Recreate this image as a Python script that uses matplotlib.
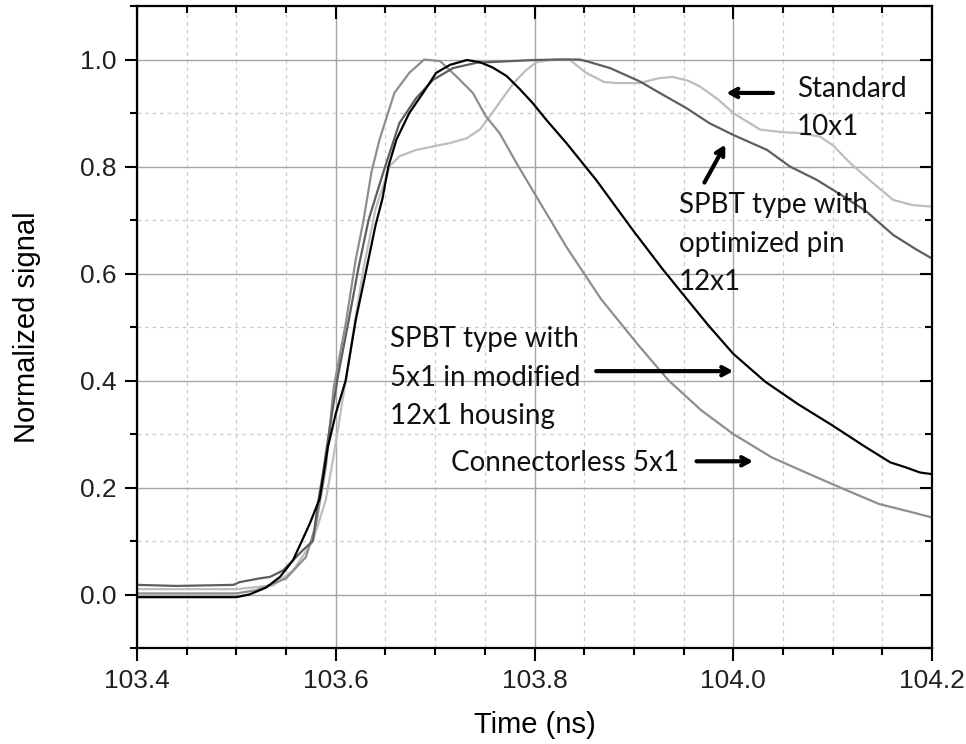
import numpy as np
import matplotlib.pyplot as plt
from matplotlib.ticker import MultipleLocator

# values (time in ns, normalized signal)
t_standard = [103.40, 103.50, 103.537, 103.557, 103.577, 103.59, 103.598, 103.61, 103.62, 103.628,
              103.64, 103.654, 103.664, 103.681, 103.698, 103.715, 103.732, 103.745, 103.755, 103.765,
              103.779, 103.792, 103.802, 103.82, 103.835, 103.852, 103.87, 103.882, 103.906, 103.925,
              103.939, 103.955, 103.966, 103.985, 104.0, 104.027, 104.05, 104.067, 104.087, 104.1,
              104.118, 104.14, 104.161, 104.18, 104.2]
v_standard = [0.01, 0.01, 0.017, 0.045, 0.10, 0.177, 0.26, 0.40, 0.519, 0.61,
              0.72, 0.80, 0.819, 0.831, 0.8375, 0.844, 0.853, 0.869, 0.894, 0.92,
              0.956, 0.981, 0.995, 1.0, 1.0, 0.975, 0.958, 0.956, 0.956, 0.965,
              0.9675, 0.96, 0.95, 0.925, 0.90, 0.869, 0.864, 0.8625, 0.856, 0.84,
              0.806, 0.77, 0.7375, 0.728, 0.725]

t_conn = [103.40, 103.50, 103.52, 103.55, 103.57, 103.58, 103.59, 103.598, 103.61, 103.62,
          103.628, 103.636, 103.644, 103.659, 103.674, 103.689, 103.705, 103.721, 103.738, 103.751,
          103.765, 103.782, 103.798, 103.832, 103.867, 103.905, 103.935, 103.968, 104.0, 104.039,
          104.073, 104.11, 104.147, 104.173, 104.2]
v_conn = [0.002, 0.002, 0.008, 0.03, 0.07, 0.13, 0.2375, 0.3875, 0.506, 0.625,
          0.70, 0.79, 0.85, 0.9375, 0.975, 1.0, 0.997, 0.969, 0.9375, 0.894,
          0.862, 0.806, 0.756, 0.65, 0.552, 0.465, 0.40, 0.344, 0.30, 0.256,
          0.228, 0.198, 0.169, 0.157, 0.144]

t_pin = [103.40, 103.44, 103.497, 103.503, 103.523, 103.534, 103.547, 103.557, 103.567, 103.577,
         103.582, 103.587, 103.593, 103.602, 103.613, 103.623, 103.633, 103.648, 103.664, 103.681,
         103.698, 103.718, 103.742, 103.765, 103.799, 103.826, 103.845, 103.852, 103.876, 103.906,
         103.926, 103.953, 103.976, 104.0, 104.034, 104.057, 104.084, 104.111, 104.134, 104.161,
         104.185, 104.2]
v_pin = [0.018, 0.016, 0.018, 0.023, 0.03, 0.033, 0.045, 0.064, 0.083, 0.10,
         0.17, 0.225, 0.30, 0.406, 0.512, 0.612, 0.70, 0.79, 0.881, 0.928,
         0.962, 0.984, 0.994, 0.996, 0.999, 1.0, 1.0, 0.997, 0.984, 0.959,
         0.9375, 0.909, 0.881, 0.859, 0.831, 0.80, 0.775, 0.744, 0.716, 0.672,
         0.644, 0.628]

t_5x1 = [103.40, 103.50, 103.513, 103.53, 103.544, 103.557, 103.574, 103.584, 103.592, 103.60,
         103.61, 103.62, 103.63, 103.64, 103.647, 103.653, 103.661, 103.674, 103.688, 103.701,
         103.715, 103.732, 103.745, 103.758, 103.772, 103.785, 103.798, 103.812, 103.832, 103.862,
         103.899, 103.929, 103.953, 103.975, 104.0, 104.032, 104.065, 104.099, 104.132, 104.158,
         104.173, 104.188, 104.2]
v_5x1 = [-0.005, -0.005, 0.0, 0.013, 0.033, 0.064, 0.133, 0.18, 0.275, 0.338,
         0.40, 0.512, 0.60, 0.69, 0.74, 0.80, 0.85, 0.90, 0.938, 0.975,
         0.99, 0.999, 0.995, 0.985, 0.969, 0.945, 0.919, 0.887, 0.844, 0.775,
         0.681, 0.608, 0.553, 0.503, 0.45, 0.398, 0.356, 0.317, 0.277, 0.247,
         0.238, 0.228, 0.225]

fig = plt.figure(figsize=(9.66, 7.44), dpi=100)
ax = fig.add_axes([137 / 966, 96 / 744, 795 / 966, 642 / 744])

ax.plot(t_standard, v_standard, color='#bdbdbd', lw=1.6)
ax.plot(t_conn, v_conn, color='#8e8e8e', lw=1.6)
ax.plot(t_pin, v_pin, color='#5e5e5e', lw=1.6)
ax.plot(t_5x1, v_5x1, color='#000000', lw=1.6)

ax.set_xlim(103.4, 104.2)
ax.set_ylim(-0.1, 1.1)
ax.xaxis.set_minor_locator(MultipleLocator(0.05))
ax.yaxis.set_minor_locator(MultipleLocator(0.1))
ax.set_xticks([103.4, 103.6, 103.8, 104.0, 104.2])
ax.set_xticklabels(['103.4', '103.6', '103.8', '104.0', '104.2'])
ax.set_yticks([0.0, 0.2, 0.4, 0.6, 0.8, 1.0])
ax.set_yticklabels(['0.0', '0.2', '0.4', '0.6', '0.8', '1.0'])

ax.grid(which='major', color='#a5a5a5', lw=1.0, ls='-')
ax.grid(which='minor', color='#cccccc', lw=0.9, ls=(0, (3, 3)))
ax.set_axisbelow(True)

for s in ax.spines.values():
    s.set_linewidth(1.6)

ax.tick_params(which='major', length=9, width=1.5, labelsize=19, pad=6,
               labelfontfamily='Liberation Sans', labelcolor='#222222')
ax.tick_params(which='minor', length=5, width=1.5)
ax.tick_params(top=True, right=True, which='both', direction='out')
# top/right ticks point inward
for t in ax.xaxis.get_major_ticks() + ax.xaxis.get_minor_ticks():
    t.tick2line.set_marker(3)
for t in ax.yaxis.get_major_ticks() + ax.yaxis.get_minor_ticks():
    t.tick2line.set_marker(0)

# axis labels placed by pixel position (x label centre ~725 px, y label centre ~27 px)
ax.set_xlabel('Time (ns)', fontsize=21, family='Liberation Sans', va='center')
ax.xaxis.set_label_coords(0.5, (744 - 725 - 96) / 642)
ax.set_ylabel('Normalized signal', fontsize=21, family='Liberation Sans', va='center')
ax.yaxis.set_label_coords((27 - 137) / 795, 0.5)

txt = dict(fontsize=20, family='Lato', color='#111111', linespacing=1.6, va='center', ha='left')
arrow = dict(arrowstyle='->,head_length=0.55,head_width=0.3', lw=3, color='black', shrinkA=0, shrinkB=0)

ax.text(104.064, 0.909, 'Standard\n10x1', **txt)
ax.annotate('', xy=(103.993, 0.9375), xytext=(104.04, 0.9375), arrowprops=arrow)

ax.text(103.945, 0.656, 'SPBT type with\noptimized pin\n12x1', **txt)
ax.annotate('', xy=(103.992, 0.841), xytext=(103.971, 0.77), arrowprops=arrow)

ax.text(103.655, 0.405, 'SPBT type with\n5x1 in modified\n12x1 housing', **txt)
ax.annotate('', xy=(104.0, 0.4175), xytext=(103.862, 0.4175), arrowprops=arrow)

ax.text(103.716, 0.245, 'Connectorless 5x1', **txt)
ax.annotate('', xy=(104.02, 0.249), xytext=(103.963, 0.249), arrowprops=arrow)

fig.savefig('out.png', dpi=100)
